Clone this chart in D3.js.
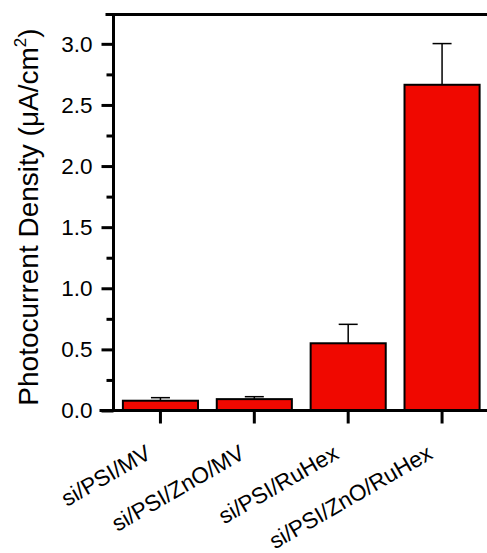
<!DOCTYPE html>
<html>
<head>
<meta charset="utf-8">
<script src="https://cdn.jsdelivr.net/npm/d3@7"></script>
<style>
  html, body { margin: 0; padding: 0; background: #fff; }
  svg { display: block; }
  text { font-family: Arial, "Liberation Sans", sans-serif; fill: #000; }
</style>
</head>
<body>
<svg id="chart" width="487" height="553"></svg>
<script>
// Samples and their mean photocurrent densities (µA/cm²) with upper error
const categories = ["si/PSI/MV", "si/PSI/ZnO/MV", "si/PSI/RuHex", "si/PSI/ZnO/RuHex"];
const values = [0.08, 0.093, 0.55, 2.665];
const errors = [0.025, 0.02, 0.155, 0.337];
const majorTicks = [0, 0.5, 1.0, 1.5, 2.0, 2.5, 3.0];
const minorTicks = [0.25, 0.75, 1.25, 1.75, 2.25, 2.75];

const svg = d3.select("#chart");
const plotLeft = 113.5, plotRight = 489, plotTop = 14.5, plotBottom = 410.5;

const x = d3.scaleBand().domain(categories).range([plotLeft, plotRight])
  .paddingInner(0.2).paddingOuter(0.1);
const y = d3.scaleLinear().domain([0, 3.24]).range([plotBottom, plotTop]);

const data = categories.map((c, i) => ({ c, v: values[i], e: errors[i] }));

// Bars
svg.append("g").selectAll("rect").data(data).join("rect")
  .attr("x", d => x(d.c))
  .attr("y", d => y(d.v))
  .attr("width", x.bandwidth())
  .attr("height", d => y(0) - y(d.v))
  .attr("fill", "#f00800")
  .attr("stroke", "#000")
  .attr("stroke-width", 2);

// Upper error bars
const eb = svg.append("g").attr("stroke", "#000").attr("stroke-width", 1.5);
const cap = 9.5;
eb.selectAll("line.v").data(data).join("line").attr("class", "v")
  .attr("x1", d => x(d.c) + x.bandwidth() / 2)
  .attr("x2", d => x(d.c) + x.bandwidth() / 2)
  .attr("y1", d => y(d.v))
  .attr("y2", d => y(d.v + d.e));
eb.selectAll("line.h").data(data).join("line").attr("class", "h")
  .attr("x1", d => x(d.c) + x.bandwidth() / 2 - cap)
  .attr("x2", d => x(d.c) + x.bandwidth() / 2 + cap)
  .attr("y1", d => y(d.v + d.e))
  .attr("y2", d => y(d.v + d.e));

// Y axis: major ticks with labels, minor ticks without
const yAxis = svg.append("g").attr("transform", `translate(${plotLeft},0)`)
  .call(d3.axisLeft(y).tickValues(majorTicks).tickSize(12).tickPadding(9)
    .tickFormat(d3.format(".1f")));
yAxis.select(".domain").remove();
yAxis.selectAll(".tick line").attr("stroke-width", 3);
yAxis.selectAll(".tick text").attr("font-size", 22.5).attr("font-family", "Arial, 'Liberation Sans', sans-serif");

const yMinor = svg.append("g").attr("transform", `translate(${plotLeft},0)`)
  .call(d3.axisLeft(y).tickValues(minorTicks).tickSize(7).tickFormat(""));
yMinor.select(".domain").remove();
yMinor.selectAll(".tick line").attr("stroke-width", 3);

// X axis ticks at bar centres, pointing down
const xAxis = svg.append("g").attr("transform", `translate(0,${plotBottom})`)
  .call(d3.axisBottom(x).tickSize(13).tickFormat(""));
xAxis.select(".domain").remove();
xAxis.selectAll(".tick line").attr("stroke-width", 3);

// Frame lines
const frame = svg.append("g").attr("stroke", "#000").attr("stroke-width", 3).attr("stroke-linecap", "square");
frame.append("line").attr("x1", plotLeft).attr("x2", plotLeft).attr("y1", plotTop).attr("y2", plotBottom);
frame.append("line").attr("x1", 107).attr("x2", plotRight).attr("y1", plotTop).attr("y2", plotTop);
frame.append("line").attr("x1", 101).attr("x2", plotRight).attr("y1", plotBottom).attr("y2", plotBottom);
frame.append("line").attr("x1", plotRight).attr("x2", plotRight).attr("y1", plotTop).attr("y2", plotBottom);

// Rotated category labels
svg.append("g").selectAll("text").data(categories).join("text")
  .attr("transform", d => `translate(${x(d) + x.bandwidth() / 2 - 8},${plotBottom + 47}) rotate(-30)`)
  .attr("text-anchor", "end")
  .attr("font-size", 22.5)
  .text(d => d);

// Y axis title
const title = svg.append("text")
  .attr("transform", `translate(38,217) rotate(-90)`)
  .attr("text-anchor", "middle")
  .attr("font-size", 28);
title.append("tspan").text("Photocurrent Density (\u03BCA/cm");
title.append("tspan").attr("font-size", 17).attr("dy", -12).text("2");
title.append("tspan").attr("dy", 12).text(")");
</script>
</body>
</html>
